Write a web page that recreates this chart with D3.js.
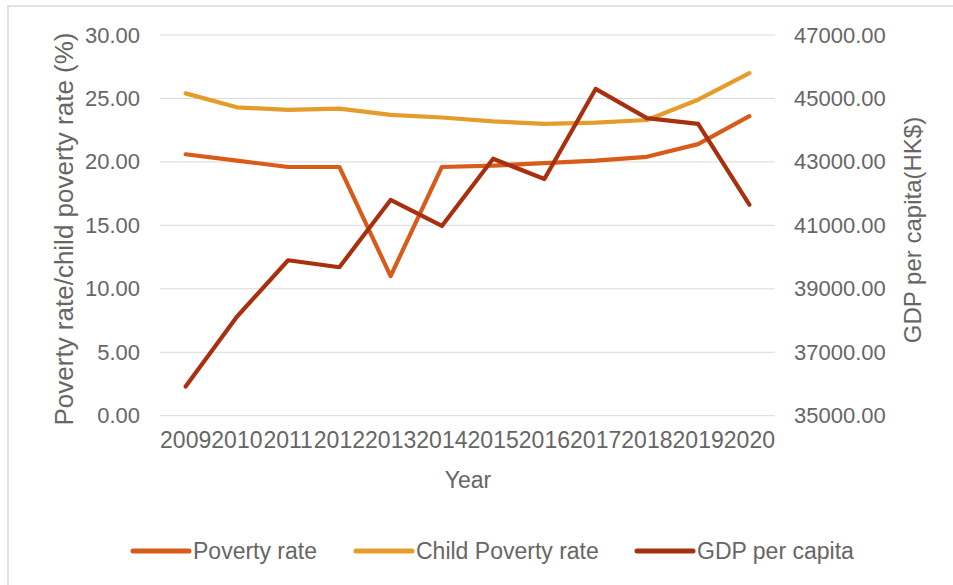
<!DOCTYPE html>
<html>
<head>
<meta charset="utf-8">
<script src="https://cdn.jsdelivr.net/npm/d3@7"></script>
<style>
  body { margin: 0; background: #fff; }
  svg text { font-family: "Liberation Sans", Arial, sans-serif; fill: #666666; }
</style>
</head>
<body>
<svg id="chart" width="953" height="585"></svg>
<script>
const years = ["2009","2010","2011","2012","2013","2014","2015","2016","2017","2018","2019","2020"];
const povertyRate = [20.6, 20.1, 19.6, 19.6, 11.0, 19.6, 19.7, 19.9, 20.1, 20.4, 21.4, 23.6];
const childPovertyRate = [25.4, 24.3, 24.1, 24.2, 23.7, 23.5, 23.2, 23.0, 23.1, 23.3, 24.9, 27.0];
const gdpPerCapita = [35920, 38120, 39900, 39680, 41800, 40980, 43100, 42460, 45300, 44380, 44200, 41650];
const leftTicks = [0, 5, 10, 15, 20, 25, 30];
const rightTicks = [35000, 37000, 39000, 41000, 43000, 45000, 47000];

const svg = d3.select("#chart");
const plotLeft = 160, plotRight = 775, plotTop = 35, plotBottom = 415.7;

// outer chart frame
svg.append("rect").attr("x", 8).attr("y", 6).attr("width", 960).attr("height", 600)
    .attr("fill", "none").attr("stroke", "#d9d9d9").attr("stroke-width", 1.5);

const x = d3.scaleBand().domain(years).range([plotLeft, plotRight]);
const y = d3.scaleLinear().domain([0, 30]).range([plotBottom, plotTop]);
const y2 = d3.scaleLinear().domain([35000, 47000]).range([plotBottom, plotTop]);

// gridlines
svg.append("g").selectAll("line").data(leftTicks).enter().append("line")
    .attr("x1", plotLeft).attr("x2", plotRight)
    .attr("y1", d => y(d)).attr("y2", d => y(d))
    .attr("stroke", "#d9d9d9").attr("stroke-width", 1);

const yAxis = svg.append("g").attr("transform", `translate(${plotLeft},0)`)
    .call(d3.axisLeft(y).tickValues(leftTicks).tickFormat(d3.format(".2f")).tickSize(0).tickPadding(20));
const y2Axis = svg.append("g").attr("transform", `translate(${plotRight},0)`)
    .call(d3.axisRight(y2).tickValues(rightTicks).tickFormat(d3.format(".2f")).tickSize(0).tickPadding(19));
const xAxis = svg.append("g").attr("transform", `translate(0,${plotBottom})`)
    .call(d3.axisBottom(x).tickSize(0).tickPadding(16));
[yAxis, y2Axis].forEach(a => {
    a.select(".domain").remove();
    a.selectAll("text").attr("font-size", 22).style("font-family", null).attr("fill", null);
});
xAxis.select(".domain").remove();
xAxis.selectAll("text").attr("font-size", 23).style("font-family", null).attr("fill", null);

const series = [
    { name: "Poverty rate", values: povertyRate, scale: y, color: "#D95B19" },
    { name: "Child Poverty rate", values: childPovertyRate, scale: y, color: "#E69C2A" },
    { name: "GDP per capita", values: gdpPerCapita, scale: y2, color: "#A8300E" }
];

series.forEach(s => {
    const line = d3.line()
        .x((d, i) => x(years[i]) + x.bandwidth() / 2)
        .y(d => s.scale(d));
    svg.append("path").datum(s.values)
        .attr("d", line)
        .attr("fill", "none")
        .attr("stroke", s.color)
        .attr("stroke-width", 4.2)
        .attr("stroke-linecap", "round")
        .attr("stroke-linejoin", "round");
});

// axis titles
svg.append("text").attr("x", 468).attr("y", 488).attr("text-anchor", "middle")
    .attr("font-size", 23).text("Year");
svg.append("text").attr("transform", "translate(73,229) rotate(-90)").attr("text-anchor", "middle")
    .attr("font-size", 26).text("Poverty rate/child poverty rate (%)");
svg.append("text").attr("transform", "translate(921,230) rotate(-90)").attr("text-anchor", "middle")
    .attr("font-size", 24).text("GDP per capita(HK$)");

// legend
const legendX = [133, 356, 637];
const legend = svg.append("g").selectAll("g").data(series).enter().append("g")
    .attr("transform", (d, i) => `translate(${legendX[i]},551)`);
legend.append("line").attr("x1", 0).attr("x2", 56).attr("y1", 0).attr("y2", 0)
    .attr("stroke", d => d.color).attr("stroke-width", 5).attr("stroke-linecap", "round");
legend.append("text").attr("x", 60).attr("y", 8).attr("font-size", 23).text(d => d.name);
</script>
</body>
</html>
